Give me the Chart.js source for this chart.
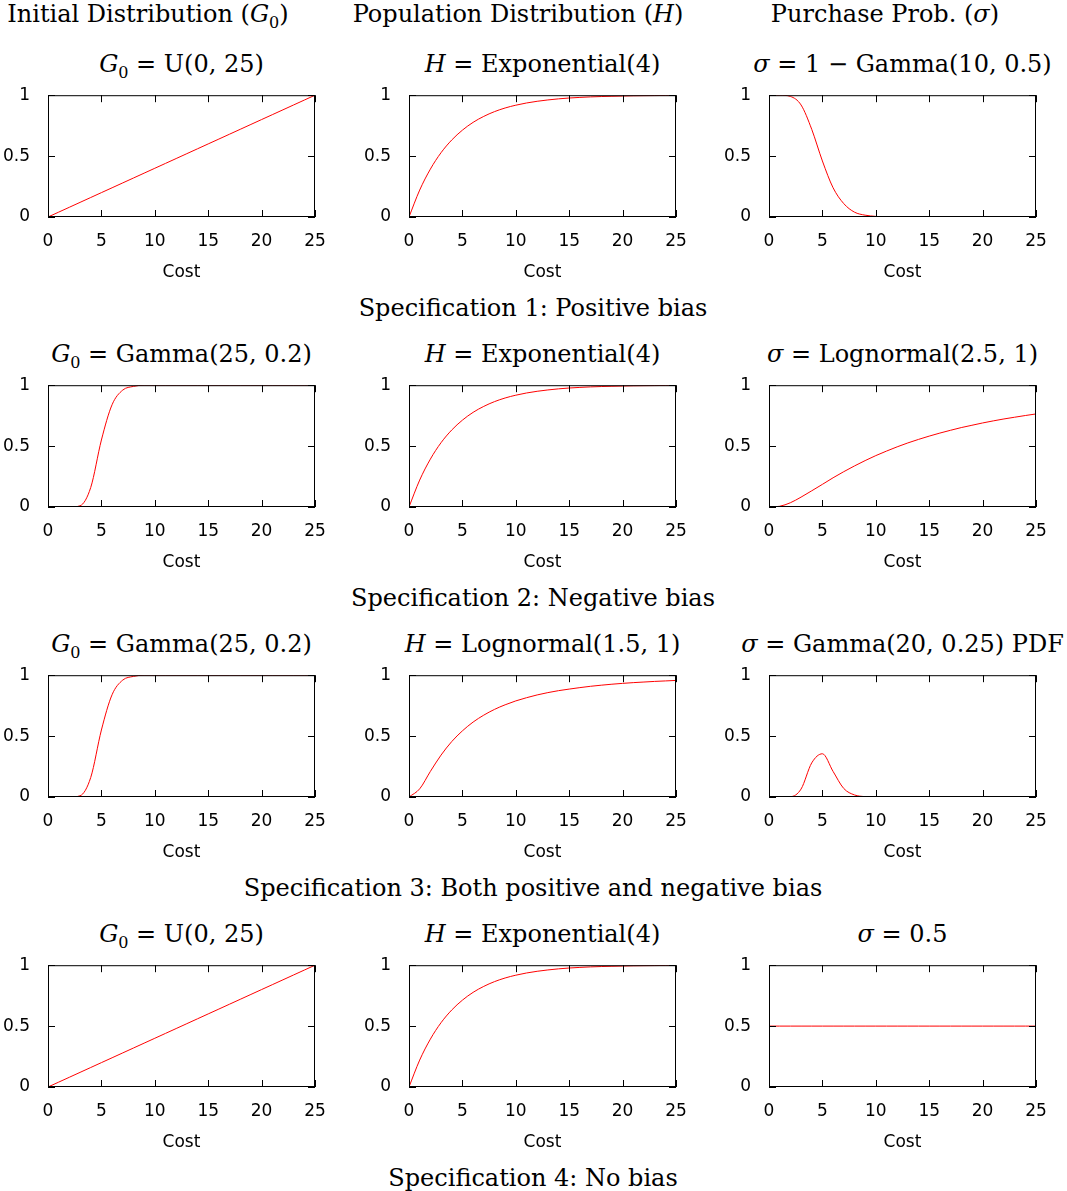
<!DOCTYPE html>
<html><head><meta charset="utf-8">
<script src="https://cdn.jsdelivr.net/npm/chart.js@4"></script>
<style>
body{margin:0;background:#fff;width:1067px;height:1191px;position:relative;overflow:hidden}
.t{position:absolute;font-family:"DejaVu Serif","Liberation Serif",serif;font-size:24px;color:#000;white-space:nowrap;transform:translateX(-50%)}
.t i{font-style:italic}
canvas{position:absolute}
</style></head><body>
<script>
// cost grid shared by every curve
const costs = [0,1,2,3,4,5,6,7,8,9,10,11,12,13,14,15,16,17,18,19,20,21,22,23,24,25];
const xTicks = [0,5,10,15,20,25];
const yTicks = [0,0.5,1];

// values
const uniformG0 = [0,.04,.08,.12,.16,.2,.24,.28,.32,.36,.4,.44,.48,.52,.56,.6,.64,.68,.72,.76,.8,.84,.88,.92,.96,1];
const expH = [0,.221,.393,.528,.632,.713,.777,.826,.865,.895,.918,.936,.95,.961,.97,.977,.982,.986,.989,.991,.993,.995,.996,.997,.998,.998];
const gammaSigma = [1,1,.99,.92,.72,.46,.24,.11,.04,.015,.005,0,0,0,0,0,0,0,0,0,0,0,0,0,0,0];
const gammaG0 = [0,0,0,.01,.16,.55,.84,.96,.99,1,1,1,1,1,1,1,1,1,1,1,1,1,1,1,1,1];
const lognSigma = [0,.006,.035,.081,.133,.186,.24,.29,.337,.381,.422,.459,.494,.526,.555,.582,.607,.63,.652,.671,.69,.707,.723,.737,.751,.764];
const lognH = [0,.067,.21,.344,.455,.543,.615,.672,.719,.757,.789,.815,.838,.857,.873,.886,.898,.909,.918,.926,.933,.939,.944,.949,.953,.957];
const gammaPdf = [0,0,.002,.065,.28,.355,.21,.07,.017,.003,0,0,0,0,0,0,0,0,0,0,0,0,0,0,0,0];
const flatSigma = [.5,.5,.5,.5,.5,.5,.5,.5,.5,.5,.5,.5,.5,.5,.5,.5,.5,.5,.5,.5,.5,.5,.5,.5,.5,.5];

const g0 = '<i>G</i><sub style="font-size:16px">0</sub>';
const headings = ['Initial Distribution (' + g0 + ')','Population Distribution (<i>H</i>)','Purchase Prob. (<i>σ</i>)'];
const headingX = [148, 518, 885];
const panelTitles = [
  [g0+' = U(0, 25)','<i>H</i> = Exponential(4)','<i>σ</i> = 1 − Gamma(10, 0.5)'],
  [g0+' = Gamma(25, 0.2)','<i>H</i> = Exponential(4)','<i>σ</i> = Lognormal(2.5, 1)'],
  [g0+' = Gamma(25, 0.2)','<i>H</i> = Lognormal(1.5, 1)','<i>σ</i> = Gamma(20, 0.25) PDF'],
  [g0+' = U(0, 25)','<i>H</i> = Exponential(4)','<i>σ</i> = 0.5']
];
const panelData = [
  [uniformG0, expH, gammaSigma],
  [gammaG0, expH, lognSigma],
  [gammaG0, lognH, gammaPdf],
  [uniformG0, expH, flatSigma]
];
const captions = ['Specification 1: Positive bias','Specification 2: Negative bias','Specification 3: Both positive and negative bias','Specification 4: No bias'];

const colLeft = [48, 409, 769];
const rowTop = [95, 385, 675, 965];
const plotW = 267, plotH = 132, yAxisW = 48, xAxisH = 70;

function addText(html, x, y) {
  const d = document.createElement('div');
  d.className = 't'; d.innerHTML = html;
  d.style.left = x + 'px'; d.style.top = y + 'px';
  document.body.appendChild(d);
}

// box + inward tick marks, gnuplot style
const frame = {
  id: 'frame',
  afterDraw(chart) {
    const {ctx, chartArea: a, scales: {x, y}} = chart;
    ctx.save();
    ctx.strokeStyle = '#000'; ctx.lineWidth = 1;
    ctx.strokeRect(a.left + .5, a.top + .5, a.right - a.left - 1, a.bottom - a.top - 1);
    ctx.beginPath();
    xTicks.forEach(v => {
      const px = Math.round(x.getPixelForValue(v)) + .5;
      ctx.moveTo(px, a.bottom); ctx.lineTo(px, a.bottom - 7);
      ctx.moveTo(px, a.top); ctx.lineTo(px, a.top + 7);
    });
    yTicks.forEach(v => {
      const py = Math.round(y.getPixelForValue(v)) + .5;
      ctx.moveTo(a.left, py); ctx.lineTo(a.left + 7, py);
      ctx.moveTo(a.right, py); ctx.lineTo(a.right - 7, py);
    });
    ctx.stroke();
    ctx.restore();
  }
};

headings.forEach((h, c) => addText(h, headingX[c], 0));

for (let r = 0; r < 4; r++) {
  for (let c = 0; c < 3; c++) {
    addText(panelTitles[r][c], colLeft[c] + plotW / 2, rowTop[r] - 45);
    const cv = document.createElement('canvas');
    cv.width = yAxisW + plotW + 20; cv.height = 10 + plotH + xAxisH;
    cv.style.left = (colLeft[c] - yAxisW) + 'px';
    cv.style.top = (rowTop[r] - 20) + 'px';
    document.body.appendChild(cv);
    new Chart(cv, {
      type: 'line',
      data: { datasets: [{ data: costs.map((x, i) => ({x, y: panelData[r][c][i]})),
        borderColor: '#ff0000', borderWidth: 1, pointRadius: 0, cubicInterpolationMode: 'monotone' }] },
      options: {
        responsive: false, animation: false, events: [],
        layout: { padding: { top: 0, right: 20, left: 0, bottom: 0 } },
        plugins: { legend: { display: false }, tooltip: { enabled: false } },
        scales: {
          x: { type: 'linear', min: 0, max: 25, afterBuildTicks: s => { s.ticks = xTicks.map(v => ({value: v})); },
            grid: { display: false }, border: { display: false },
            ticks: { color: '#000', font: { family: 'DejaVu Sans', size: 17 }, padding: 6, maxRotation: 0 },
            title: { display: true, text: 'Cost', color: '#000', font: { family: 'DejaVu Sans', size: 17 }, padding: { top: 2 } },
            afterFit: s => { s.height = xAxisH; } },
          y: { min: 0, max: 1, afterBuildTicks: s => { s.ticks = yTicks.map(v => ({value: v})); },
            grid: { display: false }, border: { display: false },
            ticks: { color: '#000', font: { family: 'DejaVu Sans', size: 17 }, padding: 10,
              callback: v => String(v) },
            afterFit: s => { s.width = yAxisW; } }
        }
      },
      plugins: [frame]
    });
  }
  addText(captions[r], 533, rowTop[r] + 199);
}
</script>
</body></html>
